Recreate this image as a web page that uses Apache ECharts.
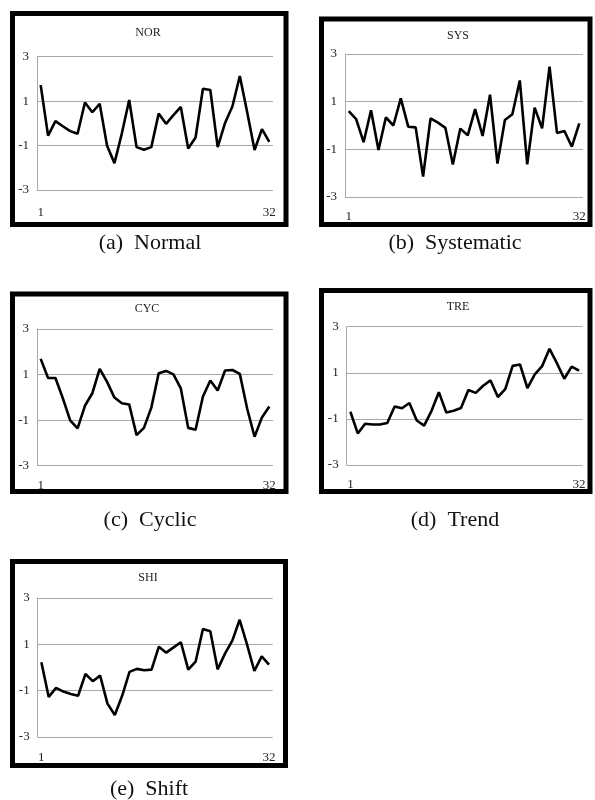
<!DOCTYPE html>
<html>
<head>
<meta charset="utf-8">
<script src="https://cdn.jsdelivr.net/npm/echarts@6/dist/echarts.min.js"></script>
<style>
html,body{margin:0;padding:0;background:#fff;}
#chart{width:595px;height:800px;}
</style>
</head>
<body>
<div id="chart"></div>
<script>
// ---- data ----
var categories = [];
for (var i = 1; i <= 32; i++) categories.push(String(i));

var panelTitles = ['NOR', 'SYS', 'CYC', 'TRE', 'SHI'];
var captions = ['(a)  Normal', '(b)  Systematic', '(c)  Cyclic', '(d)  Trend', '(e)  Shift'];
var yTicks = [-3, -1, 1, 3];

var norValues = [1.72, -0.55, 0.1, -0.13, -0.35, -0.47, 0.94, 0.5, 0.88, -1.01, -1.79, -0.46, 1.05, -1.07, -1.19, -1.07,
  0.44, -0.02, 0.37, 0.74, -1.13, -0.64, 1.56, 1.5, -1.07, 0.02, 0.77, 2.13, 0.5, -1.2, -0.26, -0.83];
var sysValues = [0.6, 0.27, -0.7, 0.64, -1.03, 0.34, 0.0, 1.14, -0.05, -0.08, -2.14, 0.3, 0.12, -0.1, -1.64, -0.13,
  -0.41, 0.69, -0.44, 1.29, -1.6, 0.23, 0.47, 1.89, -1.63, 0.75, -0.12, 2.47, -0.31, -0.23, -0.89, 0.09];
var cycValues = [1.69, 0.85, 0.85, -0.04, -1.01, -1.36, -0.37, 0.18, 1.25, 0.68, -0.01, -0.26, -0.31, -1.66, -1.34, -0.45,
  1.06, 1.16, 1.01, 0.39, -1.34, -1.42, 0.04, 0.74, 0.3, 1.18, 1.2, 1.03, -0.5, -1.73, -0.88, -0.4];
var treValues = [-0.69, -1.63, -1.21, -1.24, -1.24, -1.18, -0.46, -0.54, -0.31, -1.07, -1.29, -0.65, 0.16, -0.72, -0.65, -0.53,
  0.25, 0.13, 0.44, 0.67, -0.05, 0.29, 1.3, 1.36, 0.34, 0.93, 1.29, 2.04, 1.42, 0.74, 1.27, 1.09];
var shiValues = [0.23, -1.27, -0.88, -1.04, -1.14, -1.22, -0.28, -0.59, -0.35, -1.56, -2.05, -1.22, -0.19, -0.06, -0.12, -0.09,
  0.9, 0.64, 0.87, 1.09, -0.09, 0.25, 1.66, 1.57, -0.08, 0.6, 1.16, 2.06, 1.0, -0.15, 0.48, 0.12];

var seriesValues = [norValues, sysValues, cycValues, treValues, shiValues];

// ---- layout (positions/sizes) ----
var panels = [
  { box: [12.5, 13.5, 273.5, 211], grid: [37, 56.7, 236, 133.3], title: [148, 33], xMargin: 16, caption: [150, 243] },
  { box: [321.5, 19, 268.5, 205.5], grid: [345, 54, 238, 143], title: [458, 36], xMargin: 13, caption: [455, 243] },
  { box: [12.5, 294, 273.5, 197.5], grid: [37, 329, 236, 136.7], title: [147, 309], xMargin: 13, caption: [150, 520] },
  { box: [321.5, 290.5, 268.5, 201], grid: [346.7, 326.7, 236, 138.3], title: [458, 307], xMargin: 13.5, caption: [455, 520] },
  { box: [12.5, 561.5, 273, 204], grid: [37.7, 598, 235, 139], title: [148, 578], xMargin: 14.5, caption: [149, 789] }
];

var FONT = '"Liberation Serif", "Times New Roman", serif';
var GRID_COLOR = '#a8a8a8';

var grids = [], xAxes = [], yAxes = [], series = [], graphics = [];
panels.forEach(function (p, k) {
  grids.push({ left: p.grid[0], top: p.grid[1], width: p.grid[2], height: p.grid[3], containLabel: false });
  xAxes.push({
    type: 'category', gridIndex: k, data: categories, boundaryGap: true,
    axisLine: { show: false }, axisTick: { show: false },
    axisLabel: {
      interval: function (idx) { return idx === 0 || idx === categories.length - 1; },
      margin: p.xMargin, color: '#222', fontFamily: FONT, fontSize: 13
    },
    splitLine: { show: false }
  });
  yAxes.push({
    type: 'value', gridIndex: k, min: yTicks[0], max: yTicks[yTicks.length - 1], interval: yTicks[1] - yTicks[0],
    axisLine: { show: true, lineStyle: { color: GRID_COLOR, width: 1 } },
    axisTick: { show: false },
    axisLabel: { margin: 8, color: '#222', fontFamily: FONT, fontSize: 13 },
    splitLine: { show: true, lineStyle: { color: GRID_COLOR, width: 1 } }
  });
  series.push({
    type: 'line', xAxisIndex: k, yAxisIndex: k, data: seriesValues[k],
    symbol: 'none', lineStyle: { color: '#000', width: 2.6 }, itemStyle: { color: '#000' },
    animation: false
  });
  graphics.push({
    type: 'rect', shape: { x: p.box[0], y: p.box[1], width: p.box[2], height: p.box[3] },
    style: { fill: 'none', stroke: '#000', lineWidth: 5 }, z: 100
  });
  graphics.push({
    type: 'text', x: p.title[0], y: p.title[1],
    style: { text: panelTitles[k], font: '12px ' + FONT, fill: '#222', align: 'center', verticalAlign: 'middle' }
  });
  graphics.push({
    type: 'text', x: p.caption[0], y: p.caption[1],
    style: { text: captions[k], font: '22px ' + FONT, fill: '#111', align: 'center', verticalAlign: 'middle' }
  });
});

var chart = echarts.init(document.getElementById('chart'), null, { renderer: 'canvas' });
chart.setOption({
  backgroundColor: '#fff',
  animation: false,
  grid: grids,
  xAxis: xAxes,
  yAxis: yAxes,
  series: series,
  graphic: graphics
});
</script>
</body>
</html>
